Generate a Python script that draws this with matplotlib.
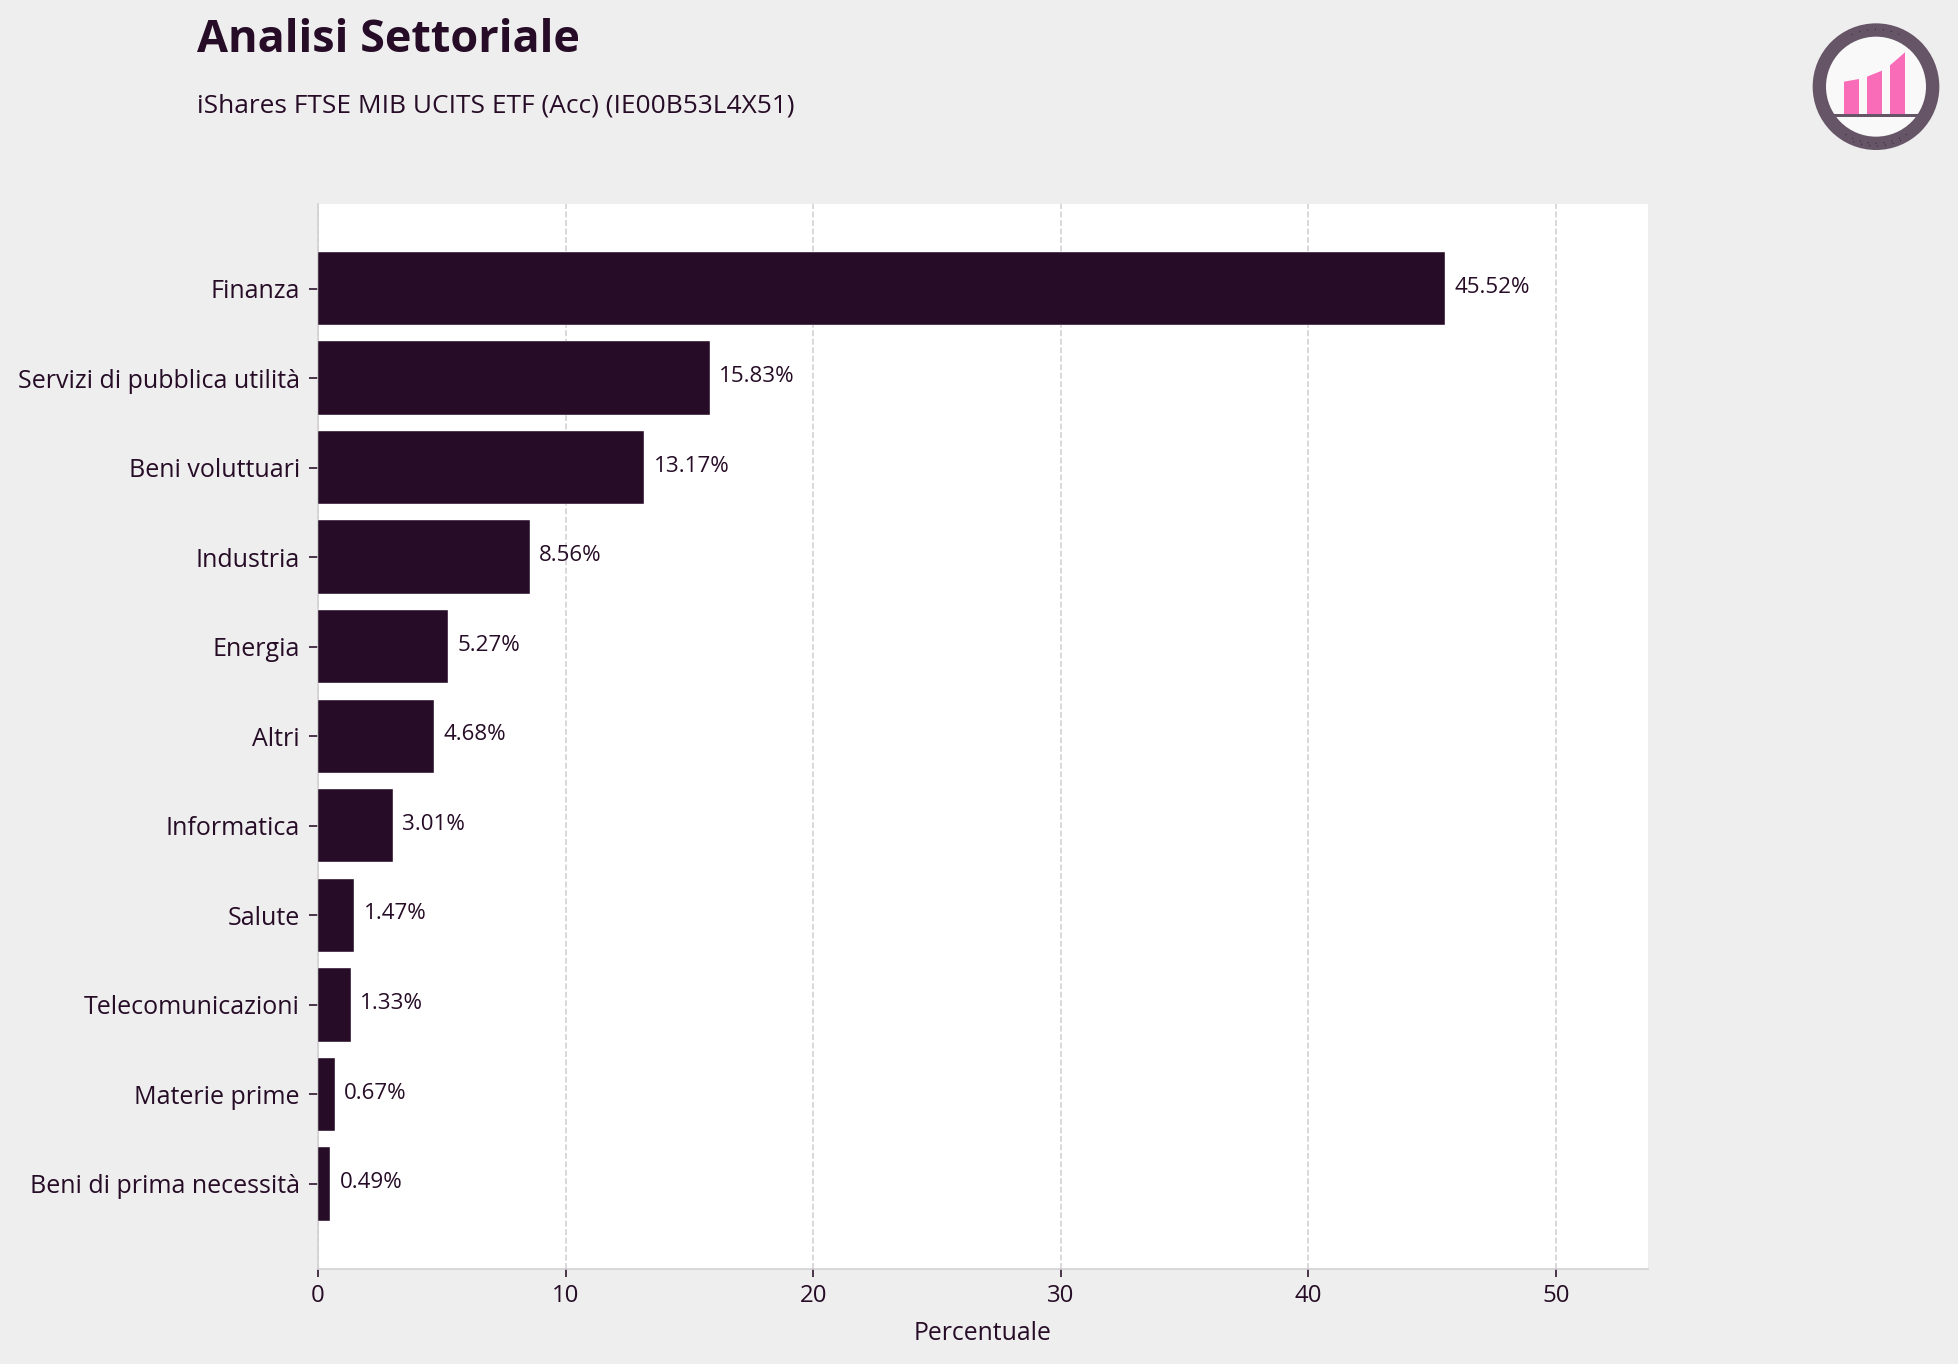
import matplotlib
matplotlib.use("Agg")
import numpy as np
import matplotlib.pyplot as plt
from matplotlib.patches import Circle, Polygon, Rectangle

sectors = ["Finanza", "Servizi di pubblica utilità", "Beni voluttuari", "Industria",
           "Energia", "Altri", "Informatica", "Salute", "Telecomunicazioni",
           "Materie prime", "Beni di prima necessità"]
weights = [45.52, 15.83, 13.17, 8.56, 5.27, 4.68, 3.01, 1.47, 1.33, 0.67, 0.49]
x_ticks = [0, 10, 20, 30, 40, 50]

DARK = "#260c26"
GREY = "#d2cfd1"
BG = "#eeeeee"
RING = "#665566"
W, H = 1958, 1364
DPI = 144

plt.rcParams["font.family"] = ["Open Sans", "DejaVu Sans"]


def draw_logo(fig):
    # logo box in pixels, coordinates follow the source image at 3x
    ax = fig.add_axes([1780 / W, 1 - 170 / H, 178 / W, 170 / H])
    ax.set_xlim(0, 534)
    ax.set_ylim(510, 0)
    ax.axis("off")
    ax.add_patch(Circle((288, 260), 170, fc="#f9f9f9", ec=RING, lw=40 / 3 * 72 / DPI))
    for pts in ([(192, 342), (192, 245), (237, 237), (237, 342)],
                [(261, 342), (261, 230), (306, 212), (306, 342)],
                [(330, 342), (330, 196), (375, 157), (375, 342)]):
        ax.add_patch(Polygon(pts, fc="#f96cb8", ec="none"))
    ax.add_patch(Rectangle((162, 342), 254, 10, fc=RING, ec="none"))
    # faint dots on the ring
    for r, a0, a1 in ((172, -115, -65), (170, 57, 123), (178, 65, 115)):
        t = np.radians(np.linspace(a0, a1, 60))
        ax.plot(288 + r * np.cos(t), 260 + r * np.sin(t), color="#33203a", lw=0.5,
                linestyle=(0, (1, 7)))


fig = plt.figure(figsize=(W / DPI, H / DPI), dpi=DPI, facecolor=BG)
ax = fig.add_axes([318 / W, 1 - 1268.5 / H, (1648 - 318) / W, (1268.5 - 204) / H])

y = np.arange(len(sectors))
ax.barh(y, weights, height=0.82, color=DARK, edgecolor="white", linewidth=0.2, zorder=3)
for yi, v in zip(y, weights):
    ax.text(v + 0.38, yi - 0.015, f"{v:.2f}%", va="center", ha="left", fontsize=11.2, color=DARK, zorder=4)

ax.set_yticks(y, sectors)
ax.set_xticks(x_ticks)
ax.set_xlim(0, 53.72)
ax.set_ylim(10.945, -0.945)
ax.tick_params(colors=DARK, width=0.8)
ax.tick_params(axis="y", labelsize=12.5, length=4.5, pad=4.5)
ax.tick_params(axis="x", labelsize=12, length=4, pad=4)
ax.grid(axis="x", linestyle="--", color=GREY, linewidth=0.8, zorder=0)
ax.set_axisbelow(True)
for side in ("top", "right"):
    ax.spines[side].set_visible(False)
for side in ("left", "bottom"):
    ax.spines[side].set_color(GREY)
    ax.spines[side].set_linewidth(0.8)
ax.set_xlabel("Percentuale", fontsize=12.4, color=DARK, labelpad=6)

fig.text(197 / W, 1 - 41 / H, "Analisi Settoriale", fontsize=22.5, fontweight="bold", color=DARK, va="center")
fig.text(197 / W, 1 - 106 / H, "iShares FTSE MIB UCITS ETF (Acc) (IE00B53L4X51)", fontsize=13.1, color=DARK, va="center")

draw_logo(fig)

fig.savefig("out.png", dpi=DPI, facecolor=BG)
